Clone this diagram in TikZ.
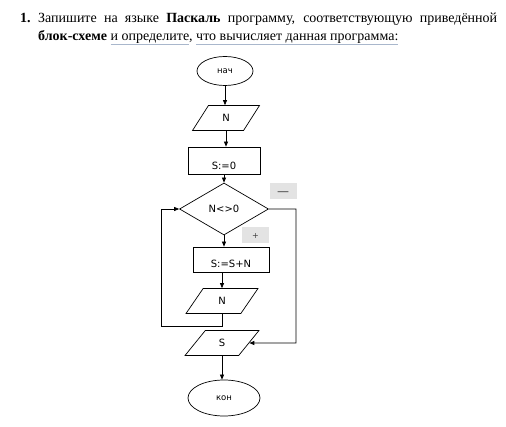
\documentclass[tikz,border=0pt]{standalone}
\usepackage{fontspec}
\setmainfont{Liberation Serif}
\newfontfamily\djf{DejaVu Sans}
\usetikzlibrary{shapes.geometric,arrows.meta}
\definecolor{ulc}{HTML}{A9B7CC}
\definecolor{tagc}{HTML}{E3E3E3}
\newcommand\myul[1]{\setbox0\hbox{#1}\rlap{\color{ulc}\rule[-3.5pt]{\wd0}{0.6pt}}\box0}
\begin{document}
\begin{tikzpicture}[x=1pt,y=-1pt,
  every node/.style={inner sep=0pt},
  box/.style={draw, line width=0.7pt, font=\djf\fontsize{10}{12}\selectfont},
  io/.style={box, trapezium, trapezium left angle=65, trapezium right angle=115, trapezium stretches=true, minimum width=67pt, minimum height=25pt},
  term/.style={box, ellipse},
  proc/.style={box, rectangle},
  cond/.style={box, diamond, minimum width=89pt, minimum height=52pt},
  arr/.style={line width=0.7pt, -{Triangle[length=5pt,width=4pt]}},
  tag/.style={fill=tagc, text=black!75, font=\djf\fontsize{8}{9}\selectfont, minimum width=27pt, minimum height=16pt},
  title/.style={font=\fontsize{14}{16}\selectfont}
]
\useasboundingbox (0,0) rectangle (506,427);
\node[anchor=base west, title] (num) at (20,23) {\textbf{1.}};
\node[anchor=base west, title] (l1) at (38,23) {\makebox[459pt][s]{Запишите на языке \textbf{Паскаль} программу, соответствующую приведённой}};
\node[anchor=base west, title] (l2) at (38,41) {\textbf{блок-схеме} \myul{и определите}, \myul{что вычисляет данная программа:}};

\node[term, minimum width=56pt, minimum height=29pt, font=\djf\fontsize{8.5}{10}\selectfont] (start) at (225,71) {нач};
\node[io] (in1) at (226,118) {N};
\node[proc, minimum width=72pt, text height=22.5pt, text depth=4.5pt] (init) at (224,160.5) {S:=0};
\node[cond] (dec) at (224,209) {N<>0};
\node[proc, minimum width=76pt, text height=21pt, text depth=4pt] (body) at (231,259.5) {S:=S+N};
\node[io, minimum width=72pt] (in2) at (222,301) {N};
\node[io, minimum width=74pt, trapezium left angle=63, trapezium right angle=117] (out) at (222,343) {S};
\node[term, minimum width=72pt, minimum height=36pt, font=\djf\fontsize{8.5}{10}\selectfont] (stop) at (224,398) {кон};

\node[tag, font=\djf\fontsize{12}{12}\selectfont, text height=12.5pt, text depth=3.5pt] (tminus) at (283,191) {—};
\node[tag] (tplus) at (255.5,235.5) {+};

\coordinate (lb) at (161,326);
\coordinate (lt) at (161,209);
\coordinate (rt) at (296,209);
\coordinate (rb) at (296,343);

\draw[arr] (start.south) -- (start.south |- in1.north);
\draw[arr] (in1.south) -- (in1.south |- init.north);
\draw[arr] (init.south) -- (init.south |- dec.north);
\draw[arr] (dec.south) -- (dec.south |- body.north);
\draw[arr] (in2.north |- body.south) -- (in2.north);
\draw[arr] (in2.south) |- (lb) -- (lt) -- (dec.west);
\draw[arr] (dec.east) -- (rt) -- (rb) -- (out.east);
\draw[arr] (out.south) -- (out.south |- stop.north);
\end{tikzpicture}
\end{document}
